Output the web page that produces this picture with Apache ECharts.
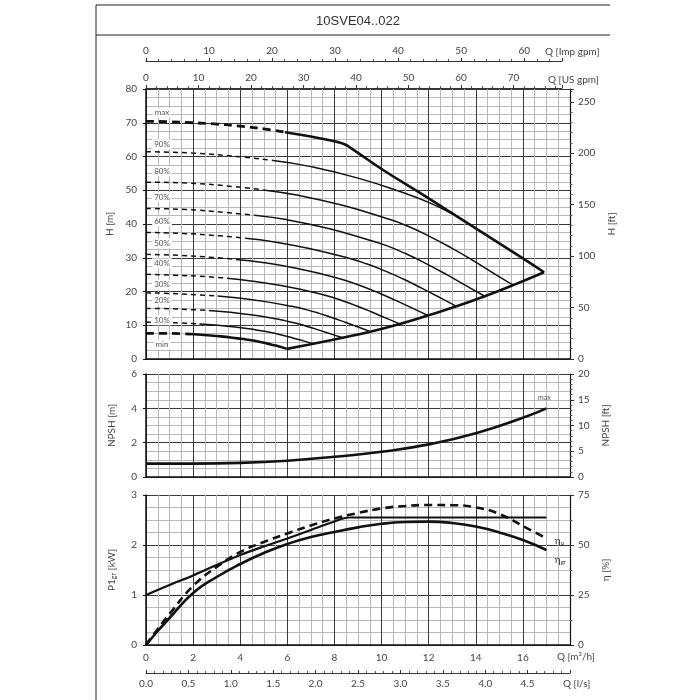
<!DOCTYPE html>
<html>
<head>
<meta charset="utf-8">
<script src="https://cdn.jsdelivr.net/npm/echarts@6/dist/echarts.min.js"></script>
<style>
html, body { margin: 0; padding: 0; background: #fff; }
#main { width: 700px; height: 700px; }
</style>
</head>
<body>
<div id="main"></div>
<script>
// performance curves, Q in m3/h
const curveNames = ['max', '90%', '80%', '70%', '60%', '50%', '40%', '30%', '20%', '10%', 'min'];

// H [m] vs Q, dashed part (low flow) and solid part of each curve
const dashedParts = [
  [[0, 70.4], [1, 70.3], [2, 70.0], [3, 69.6], [4, 69.0], [5, 68.2], [5.9, 67.2]],
  [[0, 61.4], [2, 61.0], [4, 59.9], [5.4, 58.8]],
  [[0, 52.4], [1.85, 52.1], [3.69, 51.1], [4.98, 50.1]],
  [[0, 44.6], [1.7, 44.3], [3.4, 43.4], [4.6, 42.6]],
  [[0, 37.5], [1.56, 37.2], [3.12, 36.5], [4.21, 35.8]],
  [[0, 31.0], [1.42, 30.7], [2.83, 30.1], [3.82, 29.5]],
  [[0, 25.1], [1.27, 24.8], [2.55, 24.4], [3.44, 23.9]],
  [[0, 19.6], [1.13, 19.4], [2.25, 19.0], [3.04, 18.7]],
  [[0, 15.0], [0.99, 14.9], [1.98, 14.6], [2.67, 14.4]],
  [[0, 10.9], [0.84, 10.8], [1.68, 10.6], [2.27, 10.4]],
  [[0, 7.6], [0.71, 7.6], [1.42, 7.5], [1.91, 7.4]]
];
const solidParts = [
  [[5.9, 67.2], [7, 65.9], [8, 64.5], [8.4, 63.7], [8.7, 62.5], [10, 56.3], [12, 47.6], [14, 38.7], [16, 29.8], [16.9, 25.7]],
  [[5.4, 58.8], [7, 57.0], [9, 53.6], [11, 49.1], [12, 46.4], [13, 43.0]],
  [[4.98, 50.1], [6.46, 48.5], [8.3, 45.6], [10.15, 41.8], [11.07, 39.5], [11.99, 36.5], [12.92, 33.1], [13.84, 29.4], [14.76, 25.4], [15.59, 21.9]],
  [[4.6, 42.6], [5.96, 41.3], [7.66, 38.8], [9.36, 35.5], [10.21, 33.6], [11.06, 31.1], [11.91, 28.2], [12.77, 25.0], [13.62, 21.6], [14.38, 18.6]],
  [[4.21, 35.8], [5.46, 34.7], [7.02, 32.6], [8.58, 29.9], [9.36, 28.2], [10.14, 26.1], [10.92, 23.7], [11.7, 21.0], [12.48, 18.2], [13.18, 15.6]],
  [[3.82, 29.5], [4.96, 28.6], [6.37, 26.9], [7.79, 24.6], [8.5, 23.2], [9.2, 21.5], [9.91, 19.5], [10.62, 17.3], [11.33, 15.0], [11.96, 12.9]],
  [[3.44, 23.9], [4.46, 23.1], [5.73, 21.8], [7.01, 19.9], [7.64, 18.8], [8.28, 17.4], [8.92, 15.8], [9.56, 14.0], [10.19, 12.1], [10.77, 10.4]],
  [[3.04, 18.7], [3.94, 18.1], [5.07, 17.0], [6.19, 15.6], [6.76, 14.7], [7.32, 13.6], [7.88, 12.3], [8.45, 10.9], [9.01, 9.5], [9.52, 8.1]],
  [[2.67, 14.4], [3.46, 13.9], [4.45, 13.1], [5.43, 12.0], [5.93, 11.3], [6.42, 10.5], [6.92, 9.5], [7.41, 8.4], [7.9, 7.3], [8.35, 6.3]],
  [[2.27, 10.4], [2.94, 10.1], [3.78, 9.5], [4.62, 8.7], [5.04, 8.2], [5.46, 7.6], [5.88, 6.9], [6.3, 6.1], [6.72, 5.3], [7.1, 4.5]],
  [[1.91, 7.4], [2.48, 7.1], [3.19, 6.7], [3.89, 6.1], [4.25, 5.8], [4.6, 5.4], [4.96, 4.9], [5.31, 4.3], [5.66, 3.7], [5.98, 3.0]]
];
// lower limit line through the curve ends
const limitLine = [[5.98, 3.0], [7.1, 4.5], [8.35, 6.3], [9.52, 8.1], [10.77, 10.4], [11.96, 12.9], [13.18, 15.6], [14.38, 18.6], [15.59, 21.9], [16.9, 25.7]];

// NPSH [m]
const npshQ = [0, 2, 4, 6, 8, 10, 12, 14, 16, 17];
const npshM = [0.78, 0.78, 0.82, 0.95, 1.18, 1.47, 1.9, 2.55, 3.45, 4.0];

// P1 [kW]
const powerQ = [0, 1, 2, 3, 4, 5, 6, 7, 8, 8.6, 17];
const powerP1 = [1.0, 1.2, 1.39, 1.6, 1.8, 1.97, 2.13, 2.3, 2.47, 2.55, 2.55];

// efficiencies [%]
const effQ = [0, 0.5, 1, 2, 3, 4, 5, 6, 7, 8, 9, 10, 11, 12, 13, 14, 15, 16, 17];
const etaP = [0, 8, 15.5, 29.5, 39, 46.5, 51.5, 55.8, 59.8, 63.3, 66, 68.3, 69.5, 70, 69.9, 68.8, 65.5, 59.5, 53.3];
const etaGr = [0, 7, 13.5, 26, 34, 40.5, 46, 50.5, 54, 56.5, 58.8, 60.6, 61.5, 61.7, 61, 59.2, 56.3, 52.5, 47.5];

const FONT = 'Lato, "Open Sans", sans-serif';
const TXT = '#444';

const pairs = (xs, ys) => xs.map((x, i) => [x, ys[i]]);

function gridBox(top, height, width) {
  return { left: 146, top: top, width: width || 424, height: height, outerBoundsMode: 'none', containLabel: false };
}

function qAxis(gridIndex, labels) {
  return {
    type: 'value', gridIndex: gridIndex, min: 0, max: 18, interval: 2,
    axisLine: { show: true, onZero: false, lineStyle: { color: '#111', width: 1.5 } },
    axisTick: { show: false },
    axisLabel: { show: labels, showMaxLabel: false, margin: 8, fontSize: 10, color: TXT, fontFamily: FONT },
    splitLine: { show: true, lineStyle: { color: '#3a3a3a', width: 1 } },
    minorTick: { show: false, splitNumber: 4 },
    minorSplitLine: { show: true, lineStyle: { color: '#b8b8b8', width: 1 } }
  };
}

function leftAxis(gridIndex, max, interval, name) {
  return {
    type: 'value', gridIndex: gridIndex, position: 'left', min: 0, max: max, interval: interval,
    name: name, nameLocation: 'middle', nameGap: 29, nameRotate: 90,
    nameTextStyle: { fontSize: 10, color: TXT, fontFamily: FONT,
      rich: { a: { fontSize: 10, color: TXT, fontFamily: FONT }, s: { fontSize: 7, color: TXT, fontFamily: FONT, padding: [4, 0, 0, 0] } } },
    axisLine: { show: true, lineStyle: { color: '#111', width: 1.5 } },
    axisTick: { show: true, length: 3, lineStyle: { color: '#111' } },
    axisLabel: { margin: 9, fontSize: 10, color: TXT, fontFamily: FONT },
    splitLine: { show: true, lineStyle: { color: '#3a3a3a', width: 1 } },
    minorTick: { show: false, splitNumber: 4 },
    minorSplitLine: { show: true, lineStyle: { color: '#b8b8b8', width: 1 } }
  };
}

function rightAxis(gridIndex, max, interval, minorSplit, name, showMax) {
  return {
    type: 'value', gridIndex: gridIndex, position: 'right', min: 0, max: max, interval: interval,
    name: name, nameLocation: 'middle', nameGap: 27, nameRotate: 90,
    nameTextStyle: { fontSize: 10, color: TXT, fontFamily: FONT },
    axisLine: { show: true, lineStyle: { color: '#111', width: 1.2 } },
    axisTick: { show: true, length: 4, lineStyle: { color: '#333' } },
    minorTick: { show: true, splitNumber: minorSplit, length: 2.5, lineStyle: { color: '#555' } },
    axisLabel: { margin: 8, fontSize: 10, color: TXT, fontFamily: FONT, showMaxLabel: showMax },
    splitLine: { show: false }
  };
}

function unitAxis(gridIndex, position, max, interval, name, nameGap, namePad, margin, digits) {
  const top = position === 'top';
  return {
    type: 'value', gridIndex: gridIndex, position: position, min: 0, max: max, interval: interval,
    name: name, nameLocation: 'end', nameGap: nameGap,
    nameTextStyle: { fontSize: 10, color: TXT, fontFamily: FONT, align: 'left',
      verticalAlign: top ? 'bottom' : 'top', padding: namePad },
    axisLine: { show: true, onZero: false, lineStyle: { color: '#333', width: 1 } },
    axisTick: { show: true, inside: !top, length: 3, lineStyle: { color: '#333' } },
    minorTick: { show: true, splitNumber: 5, length: 2, lineStyle: { color: '#555' } },
    axisLabel: { margin: margin, fontSize: 10, color: TXT, fontFamily: FONT, showMaxLabel: false,
      formatter: (v) => v.toFixed(digits) },
    splitLine: { show: false }
  };
}

function hiddenY(gridIndex) {
  return { type: 'value', gridIndex: gridIndex, min: 0, max: 1, show: false };
}

// label nudges (px) for the curve names at the left of the H chart
const nameDy = [-8.5, -7.5, -11, -11, -11, -11, -11, -8, -8, -2, 11];

const series = [];
curveNames.forEach((nm, i) => {
  const heavy = nm === 'max' || nm === 'min';
  series.push({
    type: 'line', xAxisIndex: 0, yAxisIndex: 0, data: dashedParts[i],
    showSymbol: false, smooth: true, silent: true,
    lineStyle: { color: '#111', width: heavy ? 2.8 : 1.5, type: heavy ? [8, 5] : [5, 4] },
    markPoint: {
      symbol: 'rect', symbolSize: 0, silent: true,
      data: [{ coord: [0.68, dashedParts[i][0][1]] }],
      label: { show: true, formatter: nm, offset: [0, nameDy[i]], fontSize: 8, color: '#555', fontFamily: FONT,
        backgroundColor: '#fff', padding: [1, 2] }
    }
  });
  series.push({
    type: 'line', xAxisIndex: 0, yAxisIndex: 0, data: solidParts[i],
    showSymbol: false, smooth: true, silent: true,
    lineStyle: { color: '#111', width: heavy ? 2.6 : 1.5 }
  });
});
series.push({
  type: 'line', xAxisIndex: 0, yAxisIndex: 0, data: limitLine,
  showSymbol: false, smooth: true, silent: true,
  lineStyle: { color: '#111', width: 2.6 }
});

series.push({
  type: 'line', xAxisIndex: 1, yAxisIndex: 2, data: pairs(npshQ, npshM),
  showSymbol: false, smooth: true, silent: true,
  lineStyle: { color: '#111', width: 2.6 },
  markPoint: {
    symbol: 'rect', symbolSize: 0, silent: true,
    data: [{ coord: [npshQ[npshQ.length - 1], npshM[npshM.length - 1]] }],
    label: { show: true, formatter: 'max', offset: [-2, -11], fontSize: 7, color: '#555', fontFamily: FONT }
  }
});

series.push({
  type: 'line', xAxisIndex: 2, yAxisIndex: 4, data: pairs(powerQ, powerP1),
  showSymbol: false, smooth: 0.3, silent: true,
  lineStyle: { color: '#111', width: 2.2 }
});

const etaRich = {
  e: { fontSize: 10, color: '#333', fontFamily: FONT },
  s: { fontSize: 6, color: '#333', fontFamily: FONT, padding: [5, 0, 0, 0] }
};
series.push({
  type: 'line', xAxisIndex: 2, yAxisIndex: 5, data: pairs(effQ, etaP),
  showSymbol: false, smooth: true, silent: true,
  lineStyle: { color: '#111', width: 2.6, type: [8, 5] },
  markPoint: {
    symbol: 'rect', symbolSize: 0, silent: true,
    data: [{ coord: [effQ[effQ.length - 1], etaP[etaP.length - 1]] }],
    label: { show: true, formatter: '{e|η}{s|p}', rich: etaRich, offset: [13, 2] }
  }
});
series.push({
  type: 'line', xAxisIndex: 2, yAxisIndex: 5, data: pairs(effQ, etaGr),
  showSymbol: false, smooth: true, silent: true,
  lineStyle: { color: '#111', width: 2.6 },
  markPoint: {
    symbol: 'rect', symbolSize: 0, silent: true,
    data: [{ coord: [effQ[effQ.length - 1], etaGr[etaGr.length - 1]] }],
    label: { show: true, formatter: '{e|η}{s|gr}', rich: etaRich, offset: [14, 10] }
  }
});

const option = {
  animation: false,
  backgroundColor: '#fff',
  grid: [
    gridBox(89, 270),
    gridBox(374, 103),
    gridBox(495, 150),
    gridBox(61, 1, 416),
    gridBox(88, 1, 416),
    gridBox(672, 1)
  ],
  xAxis: [
    qAxis(0, false),
    qAxis(1, false),
    Object.assign(qAxis(2, true), {
      name: 'Q [m³/h]', nameLocation: 'end', nameGap: -13,
      nameTextStyle: { fontSize: 10, color: TXT, fontFamily: FONT, align: 'left', verticalAlign: 'top', padding: [7, 0, 0, 0] }
    }),
    unitAxis(3, 'top', 66, 10, 'Q [Imp gpm]', -17, [0, 0, 4, 0], 5, 0),
    unitAxis(4, 'top', 79.25, 10, 'Q [US gpm]', -14, [0, 0, 3, 0], 5, 0),
    unitAxis(5, 'bottom', 5, 0.5, 'Q [l/s]', -7, [6, 0, 0, 0], 6, 1)
  ],
  yAxis: [
    leftAxis(0, 80, 10, 'H [m]'),
    rightAxis(0, 262.467, 50, 5, 'H [ft]', false),
    leftAxis(1, 6, 2, 'NPSH [m]'),
    rightAxis(1, 20, 5, 5, 'NPSH [ft]', true),
    leftAxis(2, 3, 1, '{a|P1}{s|gr}{a| [kW]}'),
    rightAxis(2, 75, 25, 2, 'η [%]', true),
    hiddenY(3),
    hiddenY(4),
    hiddenY(5)
  ],
  series: series,
  graphic: [
    { type: 'line', shape: { x1: 96, y1: 5, x2: 96, y2: 700 }, style: { stroke: '#222', lineWidth: 1 } },
    { type: 'line', shape: { x1: 96, y1: 5, x2: 610, y2: 5 }, style: { stroke: '#222', lineWidth: 1 } },
    { type: 'line', shape: { x1: 96, y1: 35, x2: 610, y2: 35 }, style: { stroke: '#222', lineWidth: 1 } },
    { type: 'text', x: 358, y: 21, style: { text: '10SVE04..022', fill: '#333', font: '13px "Liberation Sans", Arial, sans-serif', textAlign: 'center', textVerticalAlign: 'middle' } }
  ]
};

const myChart = echarts.init(document.getElementById('main'), null, { renderer: 'canvas' });
myChart.setOption(option);
</script>
</body>
</html>
